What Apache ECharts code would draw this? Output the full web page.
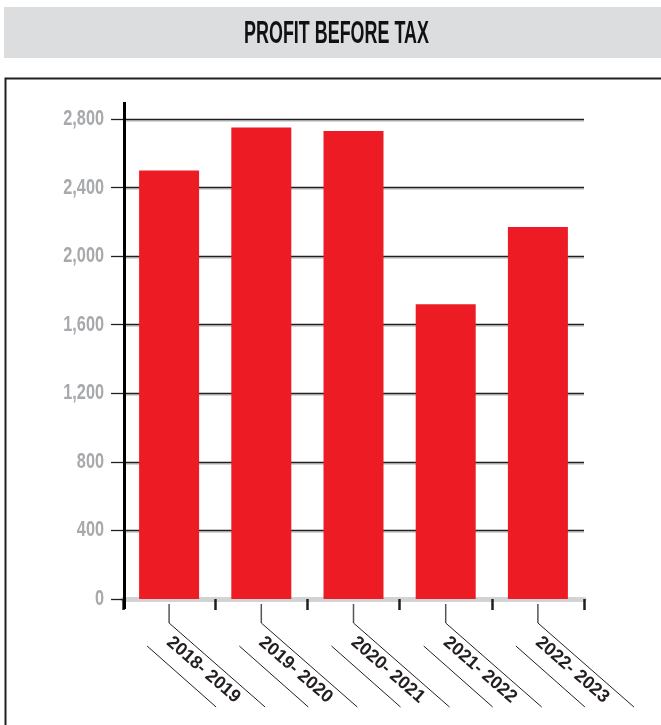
<!DOCTYPE html>
<html>
<head>
<meta charset="utf-8">
<script src="https://cdn.jsdelivr.net/npm/echarts@6/dist/echarts.min.js"></script>
<style>
html,body{margin:0;padding:0;background:#fff;}
#chart{width:661px;height:725px;}
</style>
</head>
<body>
<div id="chart"></div>
<script>
var titleText = 'PROFIT BEFORE TAX';
var categories = ['2018- 2019', '2019- 2020', '2020- 2021', '2021- 2022', '2022- 2023'];
var profitValues = [2500, 2750, 2730, 1720, 2170];
var yTicks = [0, 400, 800, 1200, 1600, 2000, 2400, 2800];

var FONT = '"Liberation Sans", Arial, sans-serif';

var chart = echarts.init(document.getElementById('chart'), null, {renderer: 'canvas'});

var option = {
  backgroundColor: '#ffffff',
  animation: false,
  graphic: [
    {type: 'rect', shape: {x: 4, y: 7, width: 700, height: 51}, style: {fill: '#dcdddf'}, z: 0},
    {type: 'rect', shape: {x: 5.5, y: 78.5, width: 720, height: 720}, style: {fill: 'none', stroke: '#231f20', lineWidth: 2}, z: 0},
    {type: 'text', x: 336.5, y: 34.5, scaleX: 0.56, z: 1,
      style: {text: titleText, font: 'bold 32px ' + FONT, fill: '#111111', align: 'center', verticalAlign: 'middle'}}
  ],
  grid: {left: 123, right: 77, top: 119, bottom: 126, containLabel: false},
  xAxis: {
    type: 'category',
    data: categories,
    boundaryGap: true,
    axisLine: {show: true, lineStyle: {color: '#d1d3d4', width: 5}},
    axisTick: {show: true, length: 11, alignWithLabel: false, lineStyle: {color: '#231f20', width: 2.5}},
    axisLabel: {
      interval: 0, rotate: -41, margin: 41,
      color: '#231f20', fontFamily: FONT, fontWeight: 'bold', fontSize: 18
    },
    splitLine: {show: false}
  },
  yAxis: {
    type: 'value',
    min: yTicks[0], max: yTicks[yTicks.length - 1], interval: 400,
    axisLine: {show: false},
    axisTick: {show: true, inside: false, length: 12, lineStyle: {color: '#231f20', width: 1.3}},
    axisLabel: {show: false},
    splitLine: {show: true, lineStyle: {color: '#231f20', width: 1.3, shadowColor: '#c8c8c8', shadowOffsetY: 1.5, shadowBlur: 0}}
  },
  series: [
    {
      type: 'bar',
      data: profitValues,
      barWidth: 60,
      itemStyle: {color: '#ed1c24'},
      z: 2
    },
    {
      // category leader lines + extended y-axis line
      type: 'custom',
      z: 3,
      silent: true,
      data: categories.map(function (c, i) { return [i, 0]; }),
      encode: {x: 0, y: 1},
      renderItem: function (params, api) {
        var p = api.coord([api.value(0), 0]);
        var cx = p[0], y0 = p[1];
        var children = [
          {type: 'line', shape: {x1: cx, y1: y0 + 5, x2: cx, y2: y0 + 24}, style: {stroke: '#555555', lineWidth: 1.5}},
          {type: 'line', shape: {x1: cx, y1: y0 + 24, x2: cx + 96, y2: y0 + 108}, style: {stroke: '#231f20', lineWidth: 1}},
          {type: 'line', shape: {x1: cx - 22, y1: y0 + 47, x2: cx + 47, y2: y0 + 108}, style: {stroke: '#231f20', lineWidth: 1}}
        ];
        if (params.dataIndex === 0) {
          var cs = params.coordSys;
          children.push({type: 'line', shape: {x1: cs.x + 1.5, y1: cs.y - 17, x2: cs.x + 1.5, y2: cs.y + cs.height + 10},
            style: {stroke: '#000000', lineWidth: 3}});
        }
        return {type: 'group', children: children};
      }
    },
    {
      // y-axis tick labels (condensed look)
      type: 'custom',
      z: 3,
      silent: true,
      data: yTicks.map(function (v) { return [0, v]; }),
      encode: {x: 0, y: 1},
      renderItem: function (params, api) {
        var v = api.value(1);
        var p = api.coord([0, v]);
        var cs = params.coordSys;
        return {
          type: 'text',
          x: cs.x - 19,
          y: p[1],
          scaleX: 0.74,
          style: {
            text: v.toLocaleString('en-US'),
            font: 'bold 22px ' + FONT,
            fill: '#a7a9ac',
            align: 'right',
            verticalAlign: 'middle'
          }
        };
      }
    }
  ]
};
chart.setOption(option);
</script>
</body>
</html>
